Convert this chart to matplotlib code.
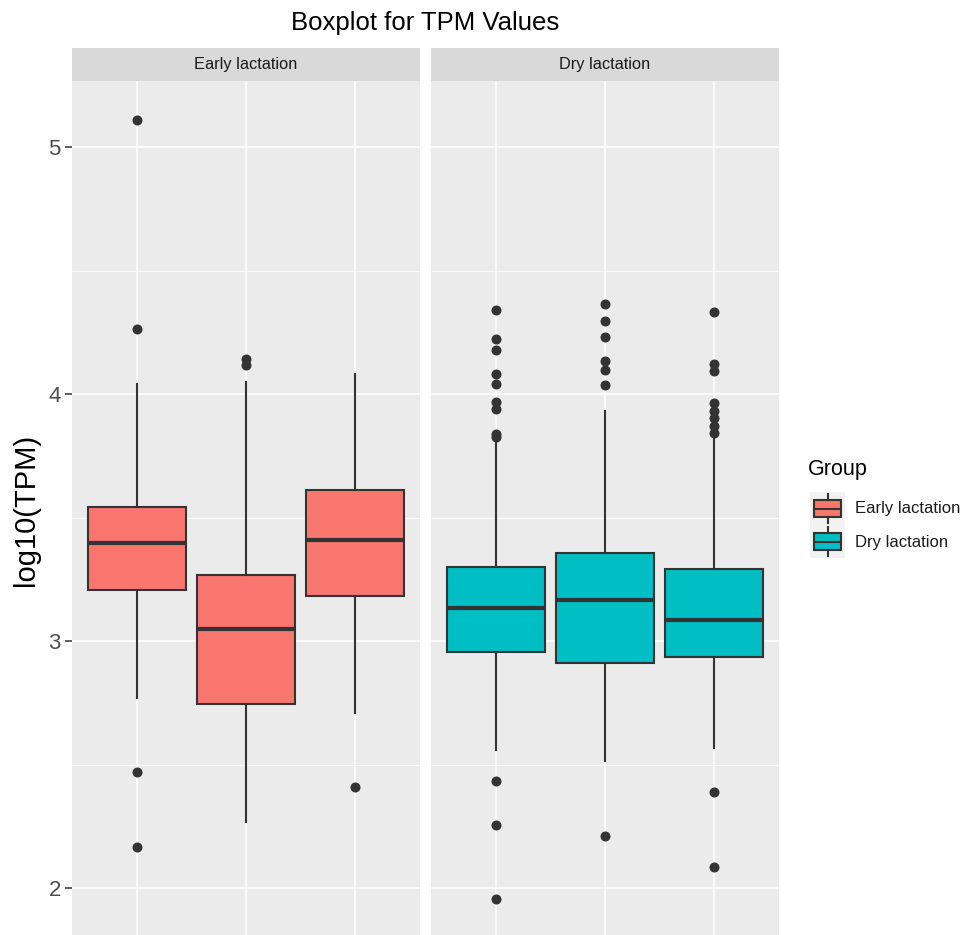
import numpy as np
import matplotlib
matplotlib.use('Agg')
from matplotlib import pyplot as plt
from matplotlib.patches import Rectangle

plt.rcParams['font.family'] = ['Liberation Sans', 'DejaVu Sans']

# five-number summaries of log10(TPM) per sample, one facet per group
groups = ['Early lactation', 'Dry lactation']
colors = ['#F8766D', '#00BFC4']

early_q1 = [3.206, 2.745, 3.182]
early_med = [3.397, 3.049, 3.409]
early_q3 = [3.543, 3.267, 3.611]
early_lo = [2.769, 2.267, 2.709]
early_hi = [4.040, 4.049, 4.081]
early_out = [[5.109, 4.263, 2.470, 2.166],
             [4.142, 4.117],
             [2.409]]

dry_q1 = [2.955, 2.911, 2.935]
dry_med = [3.134, 3.166, 3.085]
dry_q3 = [3.300, 3.356, 3.291]
dry_lo = [2.559, 2.514, 2.567]
dry_hi = [3.815, 3.932, 3.830]
dry_out = [[4.340, 4.221, 4.177, 4.082, 4.042, 3.970, 3.939, 3.837, 3.825,
            2.433, 2.258, 1.957],
           [4.363, 4.296, 4.232, 4.135, 4.097, 4.036, 2.212],
           [4.333, 4.121, 4.094, 3.962, 3.932, 3.902, 3.870, 3.841,
            2.389, 2.088]]

W, H = 968, 935
def px_rect(x0, y0, x1, y1):
    return [x0 / W, 1 - y1 / H, (x1 - x0) / W, (y1 - y0) / H]

fig = plt.figure(figsize=(W / 100, H / 100), dpi=100)

panels = [
    (72, 420, early_q1, early_med, early_q3, early_lo, early_hi, early_out),
    (431, 779, dry_q1, dry_med, dry_q3, dry_lo, dry_hi, dry_out),
]

ylim = (1.799, 5.267)
edge = '#333333'
for i, (x0, x1, q1, med, q3, lo, hi, out) in enumerate(panels):
    ax = fig.add_axes(px_rect(x0, 81, x1, 938))
    ax.set_facecolor('#EBEBEB')
    stats = []
    for k in range(3):
        stats.append(dict(q1=q1[k], med=med[k], q3=q3[k], whislo=lo[k],
                          whishi=hi[k], fliers=out[k]))
    ax.bxp(stats, positions=[1, 2, 3], widths=0.9, patch_artist=True,
           showcaps=False,
           boxprops=dict(facecolor=colors[i], edgecolor=edge, linewidth=1.5),
           medianprops=dict(color=edge, linewidth=3.0),
           whiskerprops=dict(color=edge, linewidth=1.5),
           flierprops=dict(marker='o', markerfacecolor=edge, markeredgecolor=edge,
                           markersize=6.2),
           zorder=3)
    ax.set_xlim(0.4, 3.6)
    ax.set_ylim(*ylim)
    ax.set_yticks([2, 3, 4, 5])
    ax.set_yticks([2.5, 3.5, 4.5], minor=True)
    ax.set_xticks([1, 2, 3])
    ax.grid(which='major', color='white', linewidth=1.1, zorder=0)
    ax.grid(which='minor', axis='y', color='white', linewidth=0.55, zorder=0)
    ax.set_axisbelow(True)
    for s in ax.spines.values():
        s.set_visible(False)
    ax.tick_params(axis='x', length=0, labelbottom=False)
    ax.tick_params(axis='y', which='minor', length=0)
    if i == 0:
        ax.tick_params(axis='y', which='major', length=5, width=1.1, color=edge,
                       labelsize=16, labelcolor='#4D4D4D', pad=3)
        ax.set_ylabel('log10(TPM)', fontsize=21, labelpad=6)
    else:
        ax.tick_params(axis='y', length=0, labelleft=False)

    # facet strip
    sx = fig.add_axes(px_rect(x0, 48, x1, 81))
    sx.set_facecolor('#D9D9D9')
    sx.set_xticks([])
    sx.set_yticks([])
    for s in sx.spines.values():
        s.set_visible(False)
    sx.text(0.5, 0.5, groups[i], ha='center', va='center', fontsize=11.8,
            color='#1A1A1A', transform=sx.transAxes)

fig.text(425 / W, 1 - 23 / H, 'Boxplot for TPM Values', ha='center', va='center',
         fontsize=18.5, color='black')

# legend drawn by hand in ggplot style
fig.text(808 / W, 1 - 470 / H, 'Group', ha='left', va='center', fontsize=15.5)
for j, g in enumerate(groups):
    top = 492 + 33 * j
    kx = fig.add_axes(px_rect(810, top, 845, top + 33))
    kx.set_xlim(0, 1)
    kx.set_ylim(0, 1)
    kx.axis('off')
    kx.add_patch(Rectangle((0, 0), 1, 1, facecolor='#F2F2F2', edgecolor='none'))
    kx.plot([0.5, 0.5], [0.05, 0.25], color=edge, lw=1.5)
    kx.plot([0.5, 0.5], [0.75, 0.95], color=edge, lw=1.5)
    kx.add_patch(Rectangle((0.12, 0.25), 0.76, 0.5, facecolor=colors[j],
                           edgecolor=edge, lw=1.5))
    kx.plot([0.12, 0.88], [0.5, 0.5], color=edge, lw=1.5)
    fig.text(855 / W, 1 - (top + 17) / H, g, ha='left', va='center', fontsize=12,
             color='#1A1A1A')

fig.savefig('out.png', dpi=100)
